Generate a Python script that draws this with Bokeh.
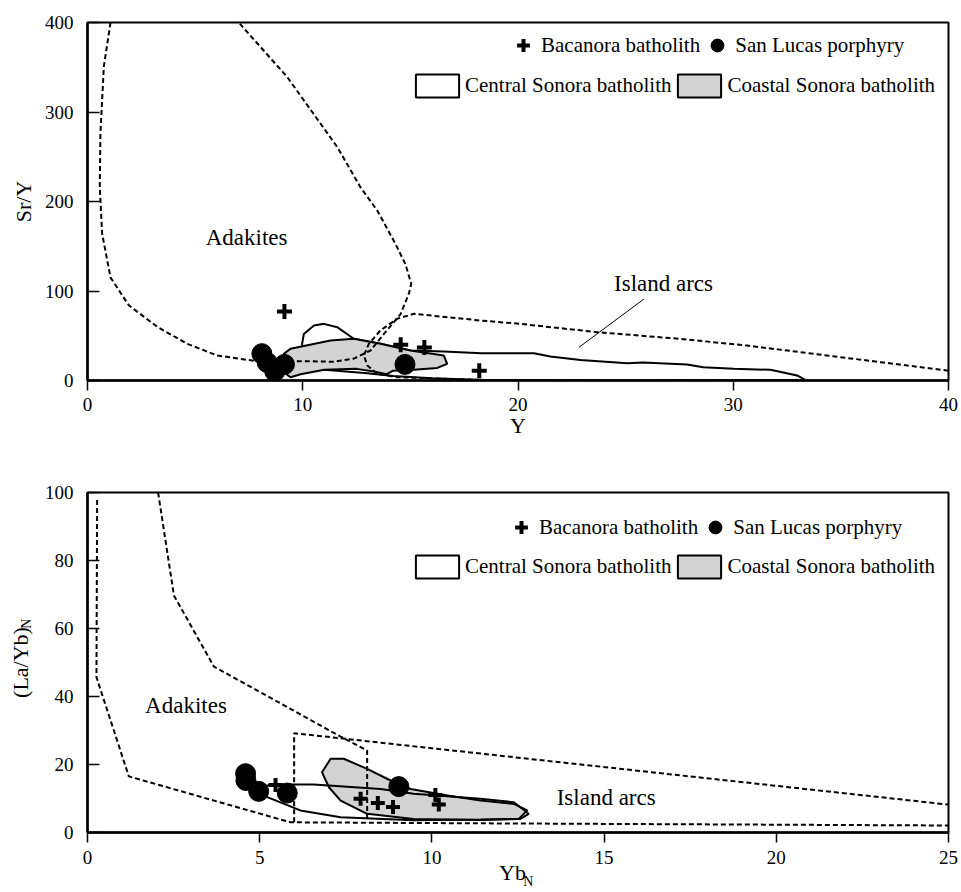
import math
from bokeh.plotting import figure
from bokeh.models import Legend, LegendItem, Range1d, FixedTicker, LinearAxis
from bokeh.layouts import column
from bokeh.embed import file_html
from bokeh.resources import INLINE
from bokeh.core.properties import value

FONT = "Liberation Serif"

# ---------------- top panel: Sr/Y vs Y ----------------
top_x_ticks = [0, 10, 20, 30, 40]
top_y_ticks = [0, 100, 200, 300, 400]

bac_top_x = [9.15, 14.55, 15.65, 18.2]
bac_top_y = [77, 40, 37, 11]
slp_top_x = [8.1, 8.35, 8.7, 9.15, 14.75]
slp_top_y = [30, 20, 10, 18, 18]

adak_top_x = [1.07, 0.76, 0.6, 0.57, 0.68, 1.07, 1.92, 3.24, 4.63, 6.02, 7.73, 9.9, 11.43,
              12.37, 13.15, 13.77, 14.54, 14.93, 15.04, 14.77, 14.3, 13.46, 12.68, 11.6,
              10.5, 9.28, 7.73, 7.03]
adak_top_y = [400, 351, 276, 216, 164, 115, 84, 60, 41, 28, 22, 21.6, 21, 24.4, 33.5, 52,
              74, 97, 108, 130, 153, 190, 216, 261, 298, 339, 381, 400]

arc_top_x = [40, 36.84, 33.74, 30.65, 27.55, 23.68, 20.1, 18.26, 15.17, 14.39, 13.61, 13.07,
             12.84, 13.0, 13.46, 14.39, 17.95, 19.0]
arc_top_y = [11, 20.5, 29.8, 39, 46.5, 54, 63.3, 67, 74.5, 69, 56, 41, 28, 16.8, 7.5, 3.7,
             0.8, 0.4]

cen_top_x = [9.97, 10.05, 10.52, 10.98, 11.6, 12.37, 13.61, 15.0, 16.55, 18.3, 20.74, 21.5,
             22.9, 25.07, 25.8, 27.86, 28.6, 30.03, 31.73, 32.97, 33.36, 25.0, 18.5, 16.0,
             14.2, 13.0, 11.0, 10.0]
cen_top_y = [41, 52, 61.5, 63.3, 59.6, 46.6, 41, 33.5, 32.4, 30.5, 30.5, 26.8, 23, 19.3, 20,
             17.9, 14.9, 13, 11.9, 5.6, 0.5, 0.3, 0.5, 2.5, 5, 8, 12, 20]

coa_top_x = [9.05, 9.12, 9.43, 11.29, 12.37, 13.61, 15.0, 16.55, 16.71, 16.25, 15.16, 14.2,
             13.9, 13.3, 12.5, 11.0, 9.9, 9.43, 9.12]
coa_top_y = [20, 29.8, 35.4, 44.7, 46.6, 41, 33.5, 28, 18.6, 14.1, 11.9, 11, 7, 10, 13, 12,
             7, 3.7, 9.3]

lbl_top_x = [7.39, 26.76]
lbl_top_y = [160, 108.4]
lbl_top_text = ["Adakites", "Island arcs"]
leader_top_x = [25.85, 22.83]
leader_top_y = [91, 37]

# ---------------- bottom panel: (La/Yb)N vs YbN ----------------
bot_x_ticks = [0, 5, 10, 15, 20, 25]
bot_y_ticks = [0, 20, 40, 60, 80, 100]

bac_bot_x = [5.46, 7.93, 8.43, 8.87, 10.1, 10.2]
bac_bot_y = [14, 9.9, 8.7, 7.5, 11, 8.2]
slp_bot_x = [4.59, 4.6, 4.97, 5.8, 9.04]
slp_bot_y = [17.3, 15.3, 12.1, 11.6, 13.5]

adak_bot_a_x = [0.28, 0.26, 1.2, 5.89, 11.41, 25]
adak_bot_a_y = [97.8, 45.7, 16.5, 3.0, 2.7, 2.06]
adak_bot_b_x = [2.05, 2.51, 3.67, 7.35, 8.12, 8.12]
adak_bot_b_y = [100, 69.7, 48.8, 28.2, 24.1, 3.0]
arc_bot_x = [6.0, 6.0, 25]
arc_bot_y = [3.0, 29.2, 8.2]

cen_bot_x = [5.15, 5.31, 6.57, 8.51, 9.47, 11.41, 12.38, 12.81, 12.57, 11.41, 9.47, 7.35,
             6.18, 5.22]
cen_bot_y = [13.5, 14.1, 14.1, 12.8, 11.4, 9.9, 8.9, 5.5, 4.0, 3.8, 3.6, 4.5, 6.5, 10.4]
coa_bot_x = [6.81, 7.06, 7.44, 8.12, 8.8, 9.38, 10.5, 11.41, 12.38, 12.77, 12.52, 11.41,
             9.47, 8.12, 7.35, 7.01]
coa_bot_y = [17.7, 21.7, 21.7, 18.7, 15.3, 12.8, 10.8, 9.4, 8.4, 6.5, 4.0, 3.7, 4.0, 5.5,
             9.4, 13.3]

lbl_bot_x = [2.86, 15.06]
lbl_bot_y = [37.4, 10.3]
lbl_bot_text = ["Adakites", "Island arcs"]

# axis titles of the bottom panel (main text + subscript N)
xtitle_bot, xtitle_bot_at = "Yb", 12.34
xsub_bot, xsub_bot_at = "N", 12.80
ytitle_bot = "(La/Yb)"
ysub_bot, ysub_bot_at = "N", 62.9

legend_labels = ["Bacanora batholith", "San Lucas porphyry",
                 "Central Sonora batholith", "Coastal Sonora batholith"]

GRAY = "#d3d3d3"
DASH = "5 3"


def base_fig(xr, yr, xt, yt, fh, mbt, mbb, xlabel, ylabel):
    kw = {}
    if xlabel:
        kw["x_axis_label"] = xlabel
    if ylabel:
        kw["y_axis_label"] = ylabel
    p = figure(frame_width=861, frame_height=fh,
               x_range=Range1d(*xr), y_range=Range1d(*yr),
               output_backend="svg", toolbar_location=None,
               min_border_left=87, min_border_right=12,
               min_border_top=mbt, min_border_bottom=mbb, **kw)
    p.xgrid.visible = False
    p.ygrid.visible = False
    p.outline_line_color = "black"
    p.outline_line_width = 2
    p.outline_line_alpha = 1
    p.background_fill_color = "white"
    p.border_fill_color = "white"
    for ax in (p.xaxis[0], p.yaxis[0]):
        ax.axis_line_width = 2.5
        ax.axis_line_color = "black"
        ax.major_tick_line_color = "black"
        ax.major_tick_line_width = 1.5
        ax.minor_tick_line_color = None
        ax.major_label_text_font = FONT
        ax.major_label_text_font_size = "19px"
        ax.major_label_text_color = "black"
        ax.axis_label_text_font = FONT
        ax.axis_label_text_font_size = "22px"
        ax.axis_label_text_font_style = "normal"
        ax.axis_label_text_color = "black"
    p.xaxis.ticker = FixedTicker(ticks=xt)
    p.yaxis.ticker = FixedTicker(ticks=yt)
    p.xaxis.major_tick_in = 0
    p.xaxis.major_tick_out = 10
    p.yaxis.major_tick_in = 12
    p.yaxis.major_tick_out = 0
    p.xaxis.major_label_standoff = 7
    p.yaxis.major_label_standoff = 14
    p.yaxis.axis_label_standoff = 6
    return p


def title_axis(pos, text, size, standoff, vertical=False):
    ax = LinearAxis(ticker=FixedTicker(ticks=[pos]), major_label_overrides={pos: text},
                    axis_line_color=None, major_tick_line_color=None,
                    minor_tick_line_color=None, major_tick_in=0, major_tick_out=0,
                    major_label_standoff=standoff, major_label_text_font=FONT,
                    major_label_text_font_size=size, major_label_text_color="black")
    if vertical:
        ax.major_label_orientation = math.pi / 2
    return ax


def add_legends(p, r_bac, r_slp, r_cen, r_coa, loc1, loc2):
    common = dict(orientation="horizontal", padding=0, margin=0,
                  border_line_alpha=0, background_fill_alpha=0,
                  label_text_font=FONT, label_text_font_size="21px",
                  label_text_color="black", spacing=1)
    leg1 = Legend(items=[LegendItem(label=legend_labels[0], renderers=[r_bac]),
                         LegendItem(label=legend_labels[1], renderers=[r_slp])],
                  location=loc1, glyph_width=32, glyph_height=32, label_standoff=2,
                  **common)
    leg2 = Legend(items=[LegendItem(label=legend_labels[2], renderers=[r_cen]),
                         LegendItem(label=legend_labels[3], renderers=[r_coa])],
                  location=loc2, glyph_width=54, glyph_height=29, label_standoff=1,
                  **common)
    p.add_layout(leg1)
    p.add_layout(leg2)


# ---------- top figure ----------
p1 = base_fig((0, 40), (0, 400), top_x_ticks, top_y_ticks, 358, 22, 90, "Y", "Sr/Y")
p1.xaxis.axis_label_standoff = -1

r_cen1 = p1.patch(cen_top_x, cen_top_y, fill_color="white", fill_alpha=0,
                  line_color="black", line_width=2)
r_coa1 = p1.patch(coa_top_x, coa_top_y, fill_color=GRAY, line_color="black", line_width=2)
p1.line(adak_top_x, adak_top_y, line_color="black", line_width=2, line_dash=DASH)
p1.line(arc_top_x, arc_top_y, line_color="black", line_width=2, line_dash=DASH)
p1.line(leader_top_x, leader_top_y, line_color="black", line_width=1)
p1.text(lbl_top_x, lbl_top_y, text=lbl_top_text, text_font=value(FONT),
        text_font_size="23px", text_align="center", text_baseline="middle",
        text_color="black")
r_slp1 = p1.scatter(slp_top_x, slp_top_y, marker="circle", size=20, fill_color="black",
                    line_color="black")
r_bac1 = p1.scatter(bac_top_x, bac_top_y, marker="cross", size=15, line_color="black",
                    line_width=4)
add_legends(p1, r_bac1, r_slp1, r_cen1, r_coa1, (420, 319), (323, 280))

# ---------- bottom figure ----------
p2 = base_fig((0, 25), (0, 100), bot_x_ticks, bot_y_ticks, 340, 22, 58, None, ytitle_bot)
p2.xaxis.major_label_standoff = 8
p2.yaxis.axis_label_standoff = 9

# axis-title pieces (main text + subscript) drawn as single-tick axes
p2.add_layout(title_axis(xtitle_bot_at, xtitle_bot, "22px", -7), "below")
p2.add_layout(title_axis(xsub_bot_at, xsub_bot, "14px", -14), "below")
p2.add_layout(title_axis(ysub_bot_at, ysub_bot, "14px", -22, vertical=True), "left")

r_coa2 = p2.patch(coa_bot_x, coa_bot_y, fill_color=GRAY, line_color="black", line_width=2)
r_cen2 = p2.patch(cen_bot_x, cen_bot_y, fill_color="white", fill_alpha=0,
                  line_color="black", line_width=2)
p2.line(adak_bot_a_x, adak_bot_a_y, line_color="black", line_width=2, line_dash=DASH)
p2.line(adak_bot_b_x, adak_bot_b_y, line_color="black", line_width=2, line_dash=DASH)
p2.line(arc_bot_x, arc_bot_y, line_color="black", line_width=2, line_dash=DASH)
p2.text(lbl_bot_x, lbl_bot_y, text=lbl_bot_text, text_font=value(FONT),
        text_font_size="23px", text_align="center", text_baseline="middle",
        text_color="black")
r_slp2 = p2.scatter(slp_bot_x, slp_bot_y, marker="circle", size=20, fill_color="black",
                    line_color="black")
r_bac2 = p2.scatter(bac_bot_x, bac_bot_y, marker="cross", size=14, line_color="black",
                    line_width=4)
add_legends(p2, r_bac2, r_slp2, r_cen2, r_coa2, (418, 289), (323, 251))

layout = column(p1, p2, spacing=0)
open("out.html", "w").write(file_html(layout, INLINE))
